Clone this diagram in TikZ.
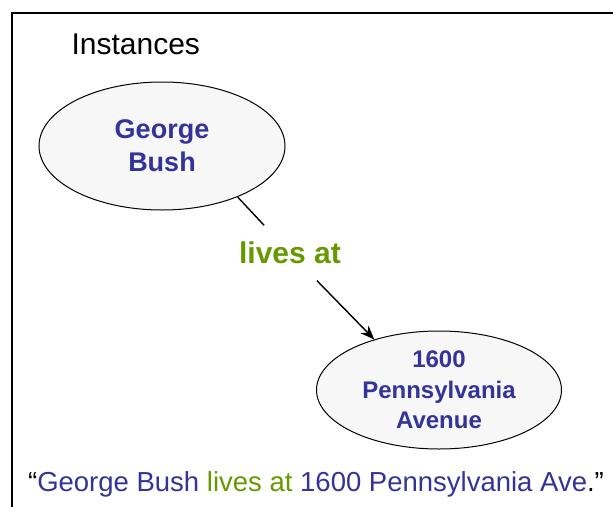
\documentclass[tikz,border=0pt]{standalone}
\usepackage{fontspec}
\setmainfont{Liberation Sans}
\usetikzlibrary{shapes.geometric,arrows.meta}
\definecolor{instblue}{HTML}{333399}
\definecolor{relgreen}{HTML}{669900}
\definecolor{ovalfill}{HTML}{F7F7F7}
\tikzset{
  instance/.style={ellipse, draw=black, line width=1pt, fill=ovalfill,
    inner sep=0pt, align=center, text=instblue, font=\bfseries},
  relation/.style={text=relgreen, font=\bfseries\fontsize{30}{36}\selectfont,
    inner sep=0pt, minimum height=55, minimum width=104},
  link/.style={line width=1.4pt, draw=black}
}
\begin{document}
\begin{tikzpicture}[x=1pt,y=-1pt]
\useasboundingbox (0,0) rectangle (613,506);
\clip (0,0) rectangle (613,506);
% outer frame, running off the right and bottom edges
\draw[line width=1.4pt] (12,13) rectangle (640,530);
\node[anchor=west, font=\fontsize{30}{36}\selectfont] (title) at (68,44) {Instances};
\node[instance, minimum width=246, minimum height=128,
  font=\bfseries\fontsize{27}{33}\selectfont] (gb) at (162,146) {George\\Bush};
\node[instance, minimum width=245, minimum height=118,
  font=\bfseries\fontsize{24}{30.5}\selectfont] (pa) at (439,390) {1600\\Pennsylvania\\Avenue};
\node[relation] (lives) at (290,253) {lives at};
\draw[link] (gb.-34) -- (lives);
\draw[link, -{Stealth[length=14pt, width=11pt]}] (lives) -- (pa.142);
\node[font=\fontsize{27.5}{33}\selectfont, inner sep=0pt] (quote) at (316,484)
  {“\textcolor{instblue}{George Bush} \textcolor{relgreen}{lives at} \textcolor{instblue}{1600 Pennsylvania Ave}.”};
\end{tikzpicture}
\end{document}
